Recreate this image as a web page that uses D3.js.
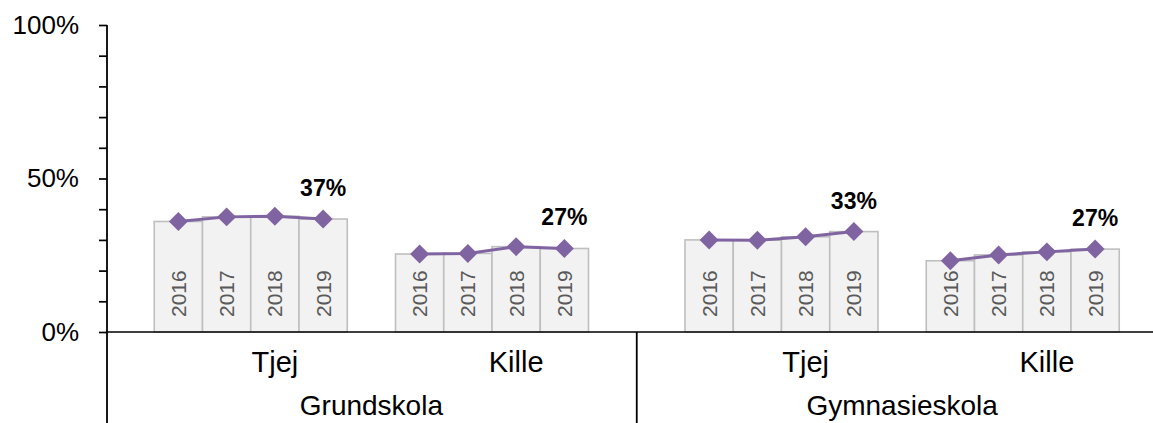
<!DOCTYPE html>
<html>
<head>
<meta charset="utf-8">
<script src="https://cdn.jsdelivr.net/npm/d3@7"></script>
<style>
  body { margin: 0; background: #fff; }
  svg { display: block; font-family: 'Liberation Sans', Arial, sans-serif; }
</style>
</head>
<body>
<svg width="1153" height="423"></svg>
<script>
const schools = ['Grundskola', 'Gymnasieskola'];
const genders = ['Tjej', 'Kille'];
const years = ['2016', '2017', '2018', '2019'];

const grundskolaTjej = [0.360, 0.375, 0.377, 0.368];
const grundskolaKille = [0.254, 0.256, 0.278, 0.272];
const gymnasieTjej = [0.300, 0.299, 0.310, 0.327];
const gymnasieKille = [0.232, 0.251, 0.261, 0.270];

const yTicks = [0, 0.1, 0.2, 0.3, 0.4, 0.5, 0.6, 0.7, 0.8, 0.9, 1];

const seriesBySchool = {
  Grundskola: [grundskolaTjej, grundskolaKille],
  Gymnasieskola: [gymnasieTjej, gymnasieKille]
};

const width = 1153;
const height = 423;
const left = 106;
const slotWidth = 48.25;
const purple = '#8064a2';

// Excel-style slots: blank slot before each school, blank slot after each gender
const slots = [];
const rows = [];
schools.forEach(s => {
  slots.push(`${s}|blank`);
  genders.forEach((g, gi) => {
    years.forEach((yr, i) => {
      const key = `${s}|${g}|${yr}`;
      slots.push(key);
      rows.push({school: s, gender: g, year: yr, key, value: seriesBySchool[s][gi][i]});
    });
    slots.push(`${s}|${g}|blank`);
  });
});

const svg = d3.select('svg');

const x = d3.scaleBand()
    .domain(slots)
    .range([left, left + slots.length * slotWidth])
    .paddingInner(0)
    .paddingOuter(0);
const y = d3.scaleLinear()
    .domain([0, 1])
    .range([332, 25]);

const bw = x.bandwidth();

// bars
svg.append('g')
    .selectAll('rect')
    .data(rows)
    .join('rect')
    .attr('x', d => x(d.key))
    .attr('y', d => y(d.value))
    .attr('width', bw)
    .attr('height', d => y(0) - y(d.value))
    .attr('fill', '#f2f2f2')
    .attr('stroke', '#bfbfbf')
    .attr('stroke-width', 1.6);

// year labels inside bars
svg.append('g')
    .selectAll('text')
    .data(rows)
    .join('text')
    .attr('transform', d => `translate(${x(d.key) + bw / 2 + 7.5}, ${y(0) - 15}) rotate(-90)`)
    .attr('font-size', 21)
    .attr('fill', '#595959')
    .text(d => d.year);

// x axis line
svg.append('line')
    .attr('x1', 107)
    .attr('x2', width)
    .attr('y1', y(0))
    .attr('y2', y(0))
    .attr('stroke', '#000')
    .attr('stroke-width', 1.7);

// y axis
const yAxis = d3.axisLeft(y)
    .tickValues(yTicks)
    .tickSize(8)
    .tickPadding(20)
    .tickFormat(d => (Math.round(d * 10) % 5 === 0 ? d3.format('.0%')(d) : ''));
const yAxisG = svg.append('g')
    .attr('transform', 'translate(107, 0)')
    .call(yAxis);
yAxisG.select('.domain').remove();
yAxisG.selectAll('line').attr('stroke', '#000').attr('stroke-width', 1.7);
yAxisG.selectAll('text')
    .attr('font-size', 26)
    .attr('font-family', "'Liberation Sans', Arial, sans-serif")
    .attr('fill', '#000');
svg.append('line')
    .attr('x1', 107)
    .attr('x2', 107)
    .attr('y1', y(1))
    .attr('y2', height)
    .attr('stroke', '#000')
    .attr('stroke-width', 1.8);

// divider between schools
schools.slice(1).forEach(s => {
  svg.append('line')
      .attr('x1', x(`${s}|blank`))
      .attr('x2', x(`${s}|blank`))
      .attr('y1', y(0))
      .attr('y2', height)
      .attr('stroke', '#000')
      .attr('stroke-width', 1.8);
});

// gender labels (centered over years + trailing blank slot)
schools.forEach(s => {
  genders.forEach(g => {
    const x0 = x(`${s}|${g}|${years[0]}`);
    const x1 = x(`${s}|${g}|blank`) + bw;
    svg.append('text')
        .attr('x', (x0 + x1) / 2)
        .attr('y', 372)
        .attr('text-anchor', 'middle')
        .attr('font-size', 29)
        .attr('fill', '#000')
        .text(g);
  });
  const s0 = x(`${s}|blank`);
  const s1 = x(`${s}|${genders[genders.length - 1]}|blank`) + bw;
  svg.append('text')
      .attr('x', (s0 + s1) / 2)
      .attr('y', 415)
      .attr('text-anchor', 'middle')
      .attr('font-size', 28)
      .attr('fill', '#000')
      .text(s);
});

// lines with diamond markers
const line = d3.line()
    .x(d => x(d.key) + bw / 2)
    .y(d => y(d.value));
const diamond = d3.symbol().type(d3.symbolSquare).size(180);

schools.forEach(s => {
  genders.forEach(g => {
    const group = rows.filter(r => r.school === s && r.gender === g);
    svg.append('path')
        .attr('d', line(group))
        .attr('fill', 'none')
        .attr('stroke', purple)
        .attr('stroke-width', 3);
    svg.append('g')
        .selectAll('path')
        .data(group)
        .join('path')
        .attr('d', diamond)
        .attr('transform', d => `translate(${x(d.key) + bw / 2}, ${y(d.value)}) rotate(45)`)
        .attr('fill', purple);
    const last = group[group.length - 1];
    svg.append('text')
        .attr('x', x(last.key) + bw / 2)
        .attr('y', y(last.value) - 23)
        .attr('text-anchor', 'middle')
        .attr('font-size', 23)
        .attr('font-weight', 'bold')
        .attr('fill', '#000')
        .text(d3.format('.0%')(last.value));
  });
});
</script>
</body>
</html>
